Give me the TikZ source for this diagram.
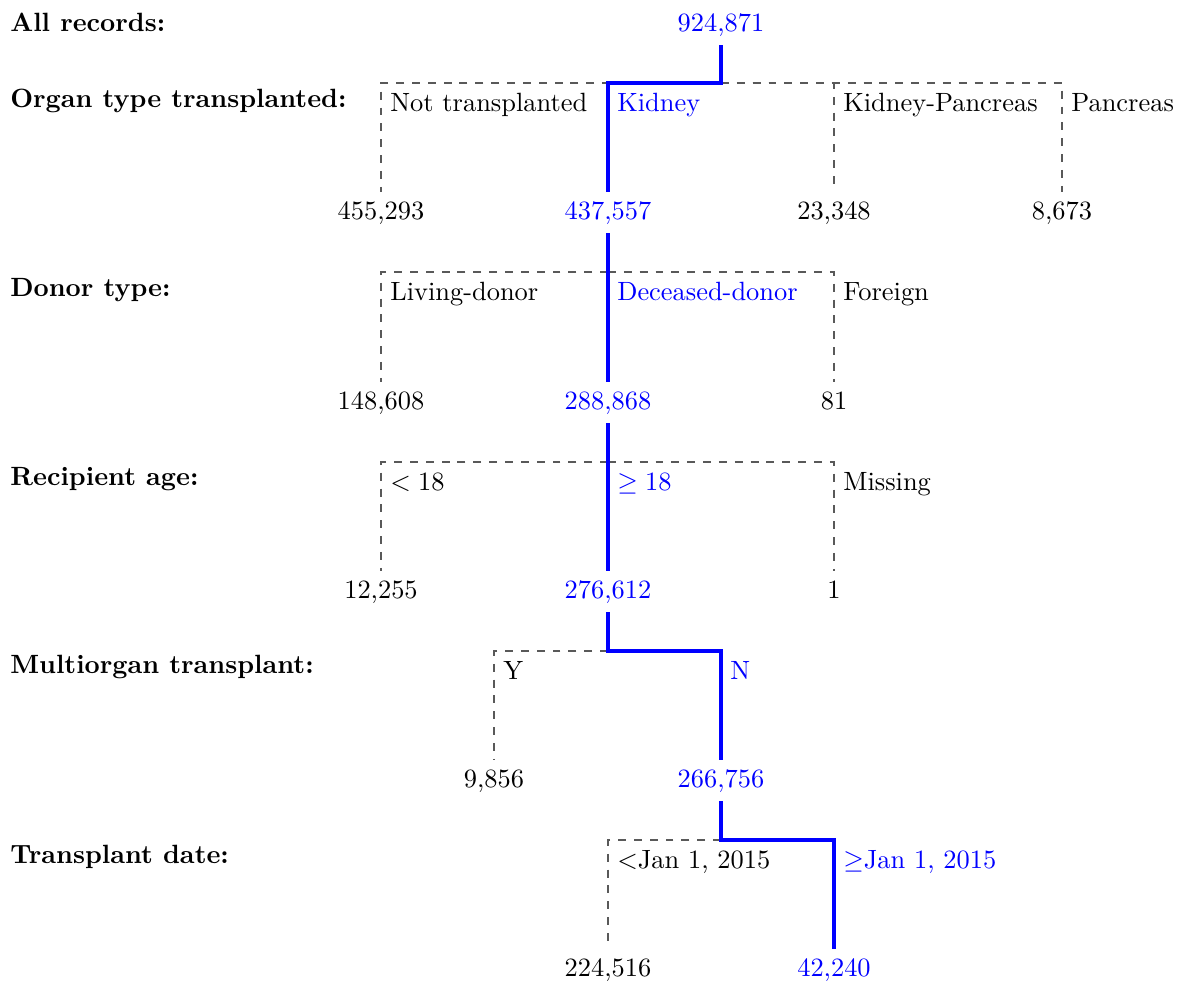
\documentclass[tikz,border=0pt]{standalone}
\usepackage{amssymb}
\usepackage{tikz}
\usetikzlibrary{positioning}
\tikzset{count/.style={anchor=base}}
\tikzset{heading/.style={anchor=base west, font=\bfseries}}
\tikzset{choice/.style={anchor=base west}}
\tikzset{kept/.style={draw=blue, line width=1.2pt}}
\tikzset{dropped/.style={draw=black!65, dashed, line width=0.5pt}}

\begin{document}
\begin{tikzpicture}[x=0.0133cm, y=-0.0133cm]
    \useasboundingbox (0,0) rectangle (1186,981);

    \node[heading] (h-all) at (1,32) {All records:};
    \node[heading] (h-organ) at (1,107) {Organ type transplanted:};
    \node[heading] (h-donor) at (1,296) {Donor type:};
    \node[heading] (h-age) at (1,485) {Recipient age:};
    \node[heading] (h-multi) at (1,673) {Multiorgan transplant:};
    \node[heading] (h-date) at (1,863) {Transplant date:};

    \node[count, blue] (all) at (721,31) {924,871};

    \node[count] (notx) at (381,219) {455,293};
    \node[count, blue] (kid) at (608,219) {437,557};
    \node[count] (kp) at (834,219) {23,348};
    \node[count] (pan) at (1062,219) {8,673};

    \node[count] (liv) at (381,409) {148,608};
    \node[count, blue] (dec) at (608,409) {288,868};
    \node[count] (frgn) at (834,409) {81};

    \node[count] (young) at (381,598) {12,255};
    \node[count, blue] (adult) at (608,598) {276,612};
    \node[count] (miss) at (834,598) {1};

    \node[count] (multi) at (494,787) {9,856};
    \node[count, blue] (single) at (721,787) {266,756};

    \node[count] (early) at (608,976) {224,516};
    \node[count, blue] (late) at (834,976) {42,240};

    \coordinate (s1) at (721,83);
    \coordinate (s2) at (608,272);
    \coordinate (s3) at (608,462);
    \coordinate (s4) at (608,651);
    \coordinate (s5) at (721,840);

    \node[choice] (l-notx) at (381,111) {Not transplanted};
    \node[choice, blue] (l-kid) at (608,111) {Kidney};
    \node[choice] (l-kp) at (834,111) {Kidney-Pancreas};
    \node[choice] (l-pan) at (1062,111) {Pancreas};

    \node[choice] (l-liv) at (381,300) {Living-donor};
    \node[choice, blue] (l-dec) at (608,300) {Deceased-donor};
    \node[choice] (l-frgn) at (834,300) {Foreign};

    \node[choice] (l-young) at (381,490) {$<18$};
    \node[choice, blue] (l-adult) at (608,490) {$\geq 18$};
    \node[choice] (l-miss) at (834,490) {Missing};

    \node[choice] (l-multi) at (494,679) {Y};
    \node[choice, blue] (l-single) at (721,679) {N};

    \node[choice] (l-early) at (608,868) {$<$Jan 1, 2015};
    \node[choice, blue] (l-late) at (834,868) {$\geq$Jan 1, 2015};

    \draw[dropped] (s1) -| (notx.north);
    \draw[dropped] (s1) -| (kp.north);
    \draw[dropped] (s1) -| (pan.north);
    \draw[kept] (all.south) -- (s1) -| (kid.north);

    \draw[dropped] (s2) -| (liv.north);
    \draw[dropped] (s2) -| (frgn.north);
    \draw[kept] (kid.south) -- (s2) -- (dec.north);

    \draw[dropped] (s3) -| (young.north);
    \draw[dropped] (s3) -| (miss.north);
    \draw[kept] (dec.south) -- (s3) -- (adult.north);

    \draw[dropped] (s4) -| (multi.north);
    \draw[kept] (adult.south) -- (s4) -| (single.north);

    \draw[dropped] (s5) -| (early.north);
    \draw[kept] (single.south) -- (s5) -| (late.north);
\end{tikzpicture}
\end{document}
